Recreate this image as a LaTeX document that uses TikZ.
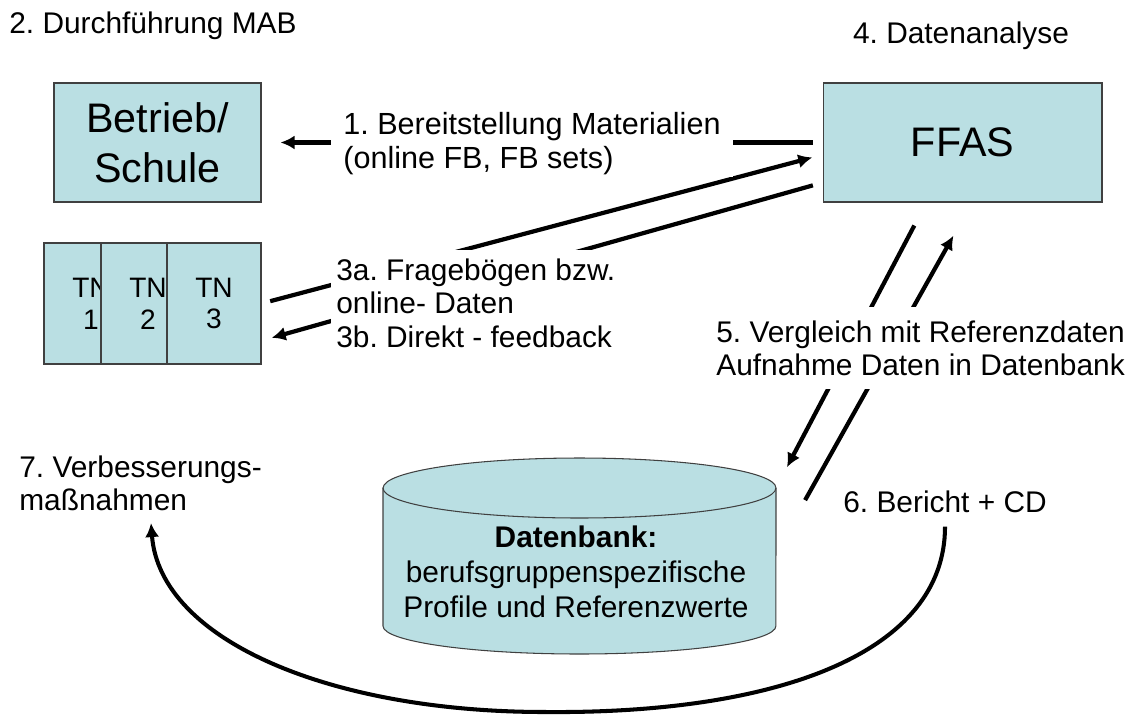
\documentclass[tikz,border=0pt]{standalone}
\usepackage{fontspec}
\setmainfont{Liberation Sans}
\usetikzlibrary{arrows.meta}
\definecolor{boxblue}{RGB}{186,223,227}
\frenchspacing

\begin{document}
\begin{tikzpicture}[x=0.02cm, y=-0.02cm,
        box/.style={draw=black!75, line width=0.6pt, fill=boxblue, inner sep=0pt, align=center},
        mainbox/.style={box, minimum height=2.38cm, font=\fontsize{23.5}{28.3}\selectfont},
        tnbox/.style={box, minimum width=1.88cm, minimum height=2.42cm, font=\fontsize{16}{18.1}\selectfont},
        note/.style={inner sep=0pt, align=left, font=\fontsize{17}{19.3}\selectfont},
        cover/.style={note, fill=white},
        flow/.style={line width=2.4pt, -{Latex[length=8pt, width=8pt]}}]
        \useasboundingbox (0,0) rectangle (1132,714);

        \node[mainbox, minimum width=4.14cm] (betrieb) at (157.5,142.5) {Betrieb/\\Schule};
        \node[mainbox, minimum width=5.58cm] (ffas) at (962.5,142.5) {FFAS};
        \node[tnbox] (tn1) at (91,303.5) {TN\\1};
        \node[tnbox] (tn2) at (148,303.5) {TN\\2};
        \node[tnbox] (tn3) at (214,303.5) {TN\\3};

        \filldraw[fill=boxblue, draw=black!75, line width=0.6pt]
            (383,488) -- (383,626) arc[start angle=180, end angle=360, x radius=3.93cm, y radius=0.56cm]
            -- (776,488) arc[start angle=0, end angle=180, x radius=3.93cm, y radius=0.6cm] -- cycle;
        \draw[draw=black!75, line width=0.6pt] (383,488) arc[start angle=180, end angle=360, x radius=3.93cm, y radius=0.6cm];
        \node[note, align=center, font=\fontsize{17}{19.8}\selectfont] (db) at (576,572) {\textbf{Datenbank:}\\berufsgruppenspezifische\\Profile und Referenzwerte};

        \node[note, anchor=base west] (durch) at (9,33) {2. Durchführung MAB};
        \node[note, anchor=base] (analyse) at (961,43) {4. Datenanalyse};
        \node[note, anchor=base west] (bericht) at (843,512) {6. Bericht + CD};
        \node[note, anchor=north west] (massn) at (19,455) {7. Verbesserungs-\\maßnahmen};

        \coordinate (dbne) at (776,488);
        \coordinate (dbe) at (776,552);
        \coordinate (m7) at (151,523);

        \draw
            (ffas.west) edge[flow, shorten <=0.2cm, shorten >=0.38cm] (betrieb.east)
            (tn3.east) edge[flow, shorten <=0.18cm, shorten >=0.21cm] (ffas.185)
            (ffas.196) edge[flow, shorten <=0.2cm, shorten >=0.21cm] (tn3.322)
            (ffas.239) edge[flow, shorten <=0.52cm, shorten >=0.47cm] (dbne)
            (dbe) edge[flow, shorten <=1.19cm, shorten >=0.76cm] (ffas.279)
        ;
        \draw[flow, line width=2.3pt, shorten <=0.28cm] (bericht.south) .. controls (945,652) and (780,714) .. (545,712) .. controls (330,712) and (160,640) .. (m7);

        \node[cover, font=\fontsize{17.4}{19.3}\selectfont, inner xsep=0.24cm, inner ysep=0.04cm, anchor=north west] (bereit) at (331,110) {1. Bereitstellung Materialien\\(online FB, FB sets)};
        \node[cover, inner xsep=0.1cm, inner ysep=0.16cm, anchor=north west] (frage) at (331,250) {3a. Fragebögen bzw.\\online- Daten\\3b. Direkt - feedback};
        \node[cover, inner xsep=0.08cm, inner ysep=0.26cm, anchor=north west] (vergleich) at (712,307) {5. Vergleich mit Referenzdaten\\Aufnahme Daten in Datenbank};
\end{tikzpicture}
\end{document}
